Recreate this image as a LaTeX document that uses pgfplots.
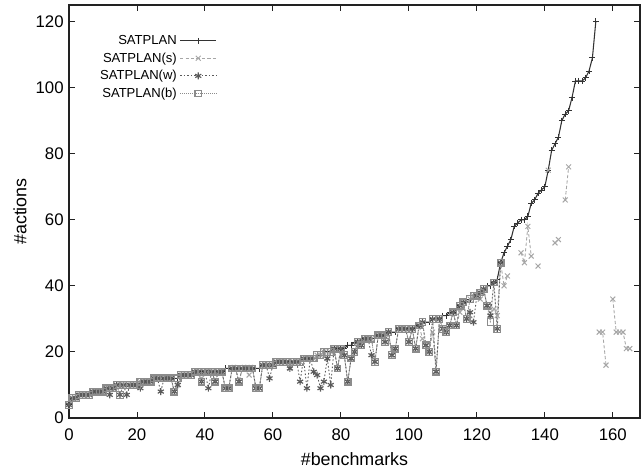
\documentclass[border=0pt]{standalone}
\usepackage{fontspec}
\setmainfont{Liberation Sans}
\usepackage{pgfplots}
\usepackage{pgfplotstable}
\pgfplotsset{compat=1.18}
\usetikzlibrary{calc}
\definecolor{satC}{HTML}{333333}
\definecolor{sC}{HTML}{A6A6A6}
\definecolor{wC}{HTML}{5A5A5A}
\definecolor{bC}{HTML}{8C8C8C}
\definecolor{frameC}{HTML}{222222}

\pgfdeclareplotmark{sqdot}{%
  \pgfpathrectangle{\pgfqpoint{-\pgfplotmarksize}{-\pgfplotmarksize}}{\pgfqpoint{2\pgfplotmarksize}{2\pgfplotmarksize}}%
  \pgfusepathqstroke
  \pgfpathcircle{\pgfpointorigin}{0.35pt}%
  \pgfusepathqfill}

% x  SATPLAN  (s)  (w)  (b)
\pgfplotstableread{
x sat s w b
0 4 4 4 4
1 6 6 6 6
2 6 6 6 6
3 7 7 7 7
4 7 7 7 7
5 7 7 7 7
6 7 7 7 7
7 8 8 8 8
8 8 8 8 8
9 8 8 8 8
10 8 8 8 8
11 9 9 9 9
12 9 9 7 9
13 9 9 9 9
14 10 10 10 10
15 10 10 7 7
16 10 10 10 10
17 10 10 7 10
18 10 10 10 10
19 10 10 10 10
20 10 10 10 10
21 11 11 9 11
22 11 11 11 11
23 11 11 11 11
24 11 11 11 11
25 12 12 12 12
26 12 12 12 12
27 12 12 8 12
28 12 12 12 12
29 12 12 12 12
30 12 12 12 12
31 12 8 8 8
32 12 10 10 12
33 13 13 13 13
34 13 13 13 13
35 13 13 13 13
36 13 13 13 13
37 14 14 14 14
38 14 14 14 14
39 14 12 11 11
40 14 14 14 14
41 14 14 9 14
42 14 14 14 14
43 14 11 11 11
44 14 14 14 14
45 14 14 14 14
46 15 9 9 9
47 15 9 9 9
48 15 15 15 15
49 15 15 15 15
50 15 11 11 11
51 15 15 15 15
52 15 15 15 15
53 15 13 15 15
54 15 15 15 15
55 15 9 9 9
56 15 9 9 9
57 16 16 16 16
58 16 16 16 16
59 16 16 12 16
60 16 16 16 16
61 17 17 17 17
62 17 17 17 17
63 17 17 17 17
64 17 17 17 17
65 17 15 15 17
66 17 17 17 17
67 17 17 17 17
68 17 17 11 17
69 18 18 18 18
70 18 18 9 18
71 18 18 18 18
72 18 18 14 18
73 19 19 13 19
74 19 19 9 19
75 20 20 11 20
76 20 18 18 20
77 20 20 10 20
78 21 21 21 21
79 21 15 15 15
80 21 21 21 21
81 21 19 19 19
82 22 11 11 11
83 22 18 18 18
84 23 20 20 20
85 23 23 23 23
86 24 22 22 22
87 24 24 24 24
88 24 24 24 24
89 24 24 19 24
90 24 17 17 17
91 25 25 25 25
92 25 25 25 25
93 25 23 23 23
94 26 26 26 26
95 26 19 19 19
96 26 21 21 21
97 27 27 27 27
98 27 27 27 27
99 27 27 27 27
100 27 23 23 23
101 27 27 27 27
102 28 21 21 21
103 28 28 28 28
104 29 24 29 29
105 29 22 22 22
106 29 20 20 20
107 30 26 30 30
108 30 14 14 14
109 30 30 30 30
110 31 27 27 27
111 31 26 26 26
112 32 28 28 28
113 32 32 32 32
114 33 28 28 28
115 34 32 34 34
116 35 35 35 35
117 35 30 30 30
118 36 36 32 36
119 37 37 29 37
120 37 37 37 37
121 38 36 38 38
122 39 39 39 39
123 40 34 34 34
124 40 31 31 29
125 41 33 41 41
126 42 31 27 27
127 47 47 47 47
128 50 40 nan nan
129 52 43 nan nan
130 54 nan nan nan
131 58 nan nan nan
132 59 nan nan nan
133 60 50 nan nan
134 60 47 nan nan
135 61 58 nan nan
136 65 49 nan nan
137 66 nan nan nan
138 68 46 nan nan
139 69 nan nan nan
140 70 nan nan nan
141 75 75 nan nan
142 81 nan nan nan
143 83 53 nan nan
144 85 54 nan nan
145 90 nan nan nan
146 92 66 nan nan
147 93 76 nan nan
148 97 nan nan nan
149 102 nan nan nan
150 102 nan nan nan
151 102 nan nan nan
152 103 nan nan nan
153 105 nan nan nan
154 109 nan nan nan
155 120 nan nan nan
156 nan 26 nan nan
157 nan 26 nan nan
158 nan 16 nan nan
159 nan nan nan nan
160 nan 36 nan nan
161 nan 26 nan nan
162 nan 26 nan nan
163 nan 26 nan nan
164 nan 21 nan nan
165 nan 21 nan nan
}\bench

\begin{document}
\begin{tikzpicture}
\begin{axis}[
  scale only axis,
  width=428.25pt,
  height=309.75pt,
  xmin=0, xmax=168,
  ymin=0, ymax=125,
  xtick={0,20,...,160},
  ytick={0,20,...,120},
  tick align=inside,
  major tick length=4.3pt,
  tick style={frameC,line width=0.7pt},
  axis line style={frameC,line width=1.1pt},
  tick label style={font=\fontsize{12.6}{14}\selectfont},
  xticklabel style={yshift=-4.5pt},
  yticklabel style={xshift=-0.5pt},
  /pgf/number format/assume math mode=true,
  xlabel={\#benchmarks},
  ylabel={\#actions},
  label style={font=\fontsize{13.4}{15}\selectfont},
  xlabel style={at={(axis description cs:0.5,-0.099)},anchor=center},
  ylabel style={at={(axis description cs:-0.0858,0.5)},anchor=center},
  unbounded coords=jump,
  legend plot pos=right,
  legend cell align=right,
  legend style={at={(axis description cs:0.262,0.937)},anchor=north east,
    draw=none,fill=none,font=\fontsize{9.8}{11.5}\selectfont,
    row sep=0.6pt,inner sep=1pt},
  legend image code/.code={%
    \draw[mark repeat=2,mark phase=2,#1] plot coordinates {(0cm,0cm) (0.48cm,0cm) (0.96cm,0cm)};},
]
\addplot[satC,line width=0.8pt,mark=+,mark size=2.3pt,mark options={solid,line width=0.7pt}]
  table[x=x,y=sat]{\bench};
\addplot[sC,line width=0.65pt,dash pattern=on 2.5pt off 1.6pt,mark=x,mark size=2.6pt,mark options={solid,line width=0.75pt}]
  table[x=x,y=s]{\bench};
\addplot[wC,line width=0.65pt,dash pattern=on 1.2pt off 1.5pt,mark=asterisk,mark size=2.6pt,mark options={solid,line width=0.85pt}]
  table[x=x,y=w]{\bench};
\addplot[bC,line width=0.55pt,dash pattern=on 0.6pt off 0.9pt,mark=sqdot,mark size=2.5pt,mark options={solid,line width=0.9pt}]
  table[x=x,y=b]{\bench};
\legend{SATPLAN,SATPLAN(s),SATPLAN(w),SATPLAN(b)}
\end{axis}
\pgfresetboundingbox
\path[use as bounding box] ($(current axis.south west)+(-51.75pt,-40.5pt)$) rectangle ($(current axis.north east)+(2.25pt,3.75pt)$);
\end{tikzpicture}
\end{document}
